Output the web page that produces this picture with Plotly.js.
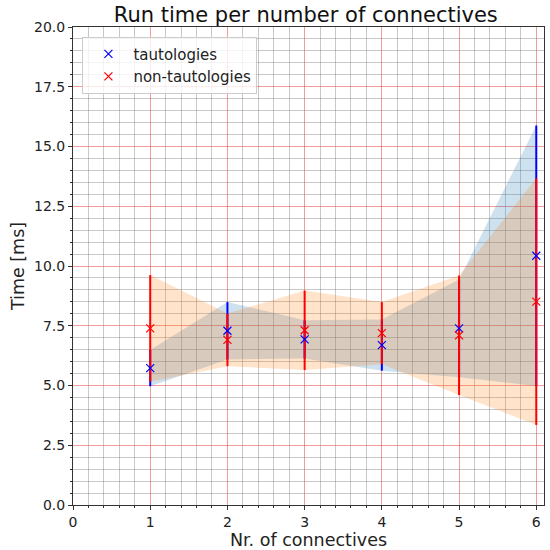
<!DOCTYPE html>
<html>
<head>
<meta charset="utf-8">
<script src="https://cdn.plot.ly/plotly-3.0.1.min.js"></script>
<style>html,body{margin:0;padding:0;background:#fff}#chart{width:550px;height:550px}</style>
</head>
<body>
<div id="chart"></div>
<script>
const connectives = [1, 2, 3, 4, 5, 6];
const tautMean = [5.73, 7.29, 6.93, 6.69, 7.39, 10.43];
const tautStd = [0.76, 1.2, 0.8, 1.07, 2.05, 5.45];
const nonTautMean = [7.39, 6.91, 7.31, 7.19, 7.1, 8.51];
const nonTautStd = [2.23, 1.1, 1.66, 1.3, 2.5, 5.16];
const seriesNames = ['tautologies', 'non-tautologies'];

function band(mean, std, color) {
  const up = mean.map((m, i) => m + std[i]);
  const lo = mean.map((m, i) => m - std[i]);
  return {
    x: connectives.concat(connectives.slice().reverse()),
    y: up.concat(lo.slice().reverse()),
    type: 'scatter', mode: 'lines', fill: 'toself',
    fillcolor: color, line: {width: 0}, hoverinfo: 'skip', showlegend: false
  };
}
function bars(mean, std, color) {
  return {
    x: connectives, y: mean, type: 'scatter', mode: 'markers',
    marker: {size: 1, opacity: 0},
    error_y: {type: 'data', array: std, visible: true, color: color, thickness: 2, width: 0},
    showlegend: false, hoverinfo: 'skip'
  };
}
function pts(mean, color, name) {
  return {
    x: connectives, y: mean, type: 'scatter', mode: 'markers', name: name,
    marker: {symbol: 'x-thin', size: 8, line: {color: color, width: 1.2}, color: color}
  };
}

const data = [
  band(tautMean, tautStd, 'rgba(31,119,180,0.22)'),
  band(nonTautMean, nonTautStd, 'rgba(255,127,14,0.22)'),
  bars(tautMean, tautStd, '#0000ff'),
  bars(nonTautMean, nonTautStd, '#ff0000'),
  pts(tautMean, '#0000ff', seriesNames[0]),
  pts(nonTautMean, '#ff0000', seriesNames[1])
];

const fontFam = 'DejaVu Sans, sans-serif';
const layout = {
  width: 550, height: 550,
  margin: {l: 73, r: 6, t: 27, b: 45},
  paper_bgcolor: '#fff', plot_bgcolor: '#fff',
  font: {family: fontFam, color: '#222', size: 14},
  title: {text: 'Run time per number of connectives', font: {size: 21, family: fontFam, color: '#111'},
          x: 0.556, xanchor: 'center', y: 0.974, yanchor: 'middle'},
  xaxis: {
    range: [0, 6.1], dtick: 1, tick0: 0,
    showgrid: true, gridcolor: 'rgba(235,90,90,0.6)', gridwidth: 1,
    zeroline: false, showline: true, linecolor: '#333', linewidth: 1, mirror: true,
    ticks: 'outside', ticklen: 4, tickcolor: '#333', tickfont: {size: 14},
    minor: {dtick: 0.2, showgrid: true, gridcolor: 'rgba(110,110,110,0.38)', gridwidth: 1, ticks: 'outside', ticklen: 2, tickcolor: '#333'},
    title: {text: 'Nr. of connectives', font: {size: 17.5}, standoff: 3}
  },
  yaxis: {
    range: [0, 20], dtick: 2.5, tick0: 0, tickformat: '.1f',
    showgrid: true, gridcolor: 'rgba(235,90,90,0.6)', gridwidth: 1,
    zeroline: false, showline: true, linecolor: '#333', linewidth: 1, mirror: true,
    ticks: 'outside', ticklen: 4, tickcolor: '#333', tickfont: {size: 14},
    minor: {dtick: 0.5, showgrid: true, gridcolor: 'rgba(110,110,110,0.38)', gridwidth: 1, ticks: 'outside', ticklen: 2, tickcolor: '#333'},
    title: {text: 'Time [ms]', font: {size: 17.5}, standoff: 4}
  },
  legend: {
    x: 0.02, y: 0.98, xanchor: 'left', yanchor: 'top',
    bgcolor: 'rgba(255,255,255,0.8)', bordercolor: '#ccc', borderwidth: 1,
    font: {size: 15}, itemwidth: 40
  },
  showlegend: true
};
Plotly.newPlot('chart', data, layout, {displayModeBar: false, staticPlot: true});
</script>
</body>
</html>
